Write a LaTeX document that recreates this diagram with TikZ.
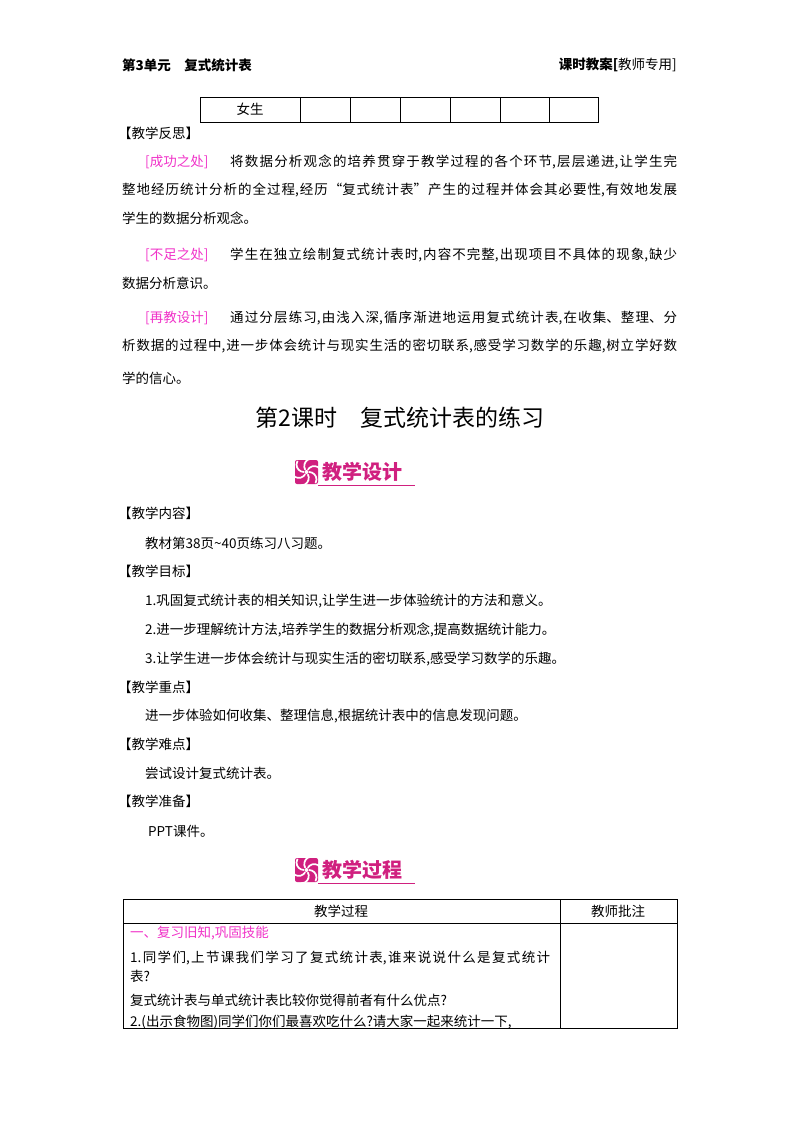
\documentclass[tikz,border=0pt]{standalone}
\usepackage{fontspec}
\setmainfont{Noto Sans CJK SC}
\XeTeXlinebreaklocale "zh"
\XeTeXlinebreakskip=0pt plus 2pt
\definecolor{mag}{HTML}{F032C8}
\definecolor{ban}{HTML}{D0207F}
\newcommand{\jl}[1]{{\parfillskip=0pt\relax #1\par}}
\tikzset{
  txt/.style={anchor=west,inner sep=0,font=\fontsize{13.5}{16}\selectfont},
  jus/.style={txt,text width=#1,align=justify},
  grid/.style={draw=black,line width=0.8pt},
}
\newcommand{\banner}[3]{%
  \fill[ban,rounded corners=2pt] (#1-60,#2-12) rectangle (#1-37,#2+12);
  \foreach \a in {0,60,...,300}{\draw[white,line width=1.7pt] (#1-48.5,#2) ++(\a:2.5) arc[start angle=\a-90,end angle=\a+30,radius=7.5];}
  \fill[white] (#1-48.5,#2) circle (2);
  \draw[ban,line width=0.8pt] (#1-37,#2+13) -- (#1+60,#2+13);
  \node[inner sep=0,anchor=west,text=ban,font=\fontsize{20}{22}\bfseries\selectfont] (#3) at (#1-33,#2) {\textbf{#3}};
}
\begin{document}
\begin{tikzpicture}[x=1pt,y=-1pt]
\useasboundingbox (0,0) rectangle (800,1132);
% header
\node[txt,font=\fontsize{13.5}{16}\bfseries\selectfont] (h1) at (122,65) {第3单元\quad 复式统计表};
\node[txt,anchor=east,font=\fontsize{13.5}{16}\bfseries\selectfont] (h2) at (677,65) {课时教案[\mdseries 教师专用]};
% top table
\draw[grid] (200,97) rectangle (598,122);
\foreach \x in {300,350,400,450,500,549}{\draw[grid] (\x,97) -- (\x,122);}
\node[txt,anchor=center] (nv) at (250,109) {女生};
% reflection
\node[txt] (fs) at (118,133) {【教学反思】};
\node[txt,text=mag] (l1) at (145,162) {[成功之处]};
\node[jus=447] (p1a) at (230,162) {\jl{将数据分析观念的培养贯穿于教学过程的各个环节,层层递进,让学生完}};
\node[jus=555] (p1b) at (122,190) {\jl{整地经历统计分析的全过程,经历“复式统计表”产生的过程并体会其必要性,有效地发展}};
\node[txt] (p1c) at (122,218) {学生的数据分析观念。};
\node[txt,text=mag] (l2) at (145,255) {[不足之处]};
\node[jus=447] (p2a) at (230,255) {\jl{学生在独立绘制复式统计表时,内容不完整,出现项目不具体的现象,缺少}};
\node[txt] (p2b) at (122,283) {数据分析意识。};
\node[txt,text=mag] (l3) at (145,318) {[再教设计]};
\node[jus=447] (p3a) at (230,318) {\jl{通过分层练习,由浅入深,循序渐进地运用复式统计表,在收集、整理、分}};
\node[jus=555] (p3b) at (122,346) {\jl{析数据的过程中,进一步体会统计与现实生活的密切联系,感受学习数学的乐趣,树立学好数}};
\node[txt] (p3c) at (122,378) {学的信心。};
% title
\node[txt,anchor=center,font=\fontsize{23}{26}\selectfont] (title) at (400,418) {第2课时\quad 复式统计表的练习};
\banner{355}{472}{教学设计}
\node[txt] (c1) at (118,513) {【教学内容】};
\node[txt] (c2) at (145,543) {教材第38页\textasciitilde 40页练习八习题。};
\node[txt] (c3) at (118,571) {【教学目标】};
\node[txt] (c4) at (145,601) {1.巩固复式统计表的相关知识,让学生进一步体验统计的方法和意义。};
\node[txt] (c5) at (145,630) {2.进一步理解统计方法,培养学生的数据分析观念,提高数据统计能力。};
\node[txt] (c6) at (145,659) {3.让学生进一步体会统计与现实生活的密切联系,感受学习数学的乐趣。};
\node[txt] (c7) at (118,687) {【教学重点】};
\node[txt] (c8) at (145,716) {进一步体验如何收集、整理信息,根据统计表中的信息发现问题。};
\node[txt] (c9) at (118,744) {【教学难点】};
\node[txt] (c10) at (145,773) {尝试设计复式统计表。};
\node[txt] (c11) at (118,801) {【教学准备】};
\node[txt] (c12) at (148,831) {PPT课件。};
\banner{355}{870}{教学过程}
% bottom table
\draw[grid] (123,899) rectangle (677,1028);
\draw[grid] (123,923) -- (677,923);
\draw[grid] (560,899) -- (560,1028);
\node[txt,anchor=center] (t1) at (341,911) {教学过程};
\node[txt,anchor=center] (t2) at (618,911) {教师批注};
\node[txt,text=mag] (t3) at (130,933) {一、复习旧知,巩固技能};
\node[jus=420] (t4) at (130,958) {\jl{1.同学们,上节课我们学习了复式统计表,谁来说说什么是复式统计}};
\node[txt] (t5) at (130,976) {表?};
\node[txt] (t6) at (130,1000) {复式统计表与单式统计表比较你觉得前者有什么优点?};
\node[txt] (t7) at (130,1022) {2.(出示食物图)同学们你们最喜欢吃什么?请大家一起来统计一下,};
\end{tikzpicture}
\end{document}
